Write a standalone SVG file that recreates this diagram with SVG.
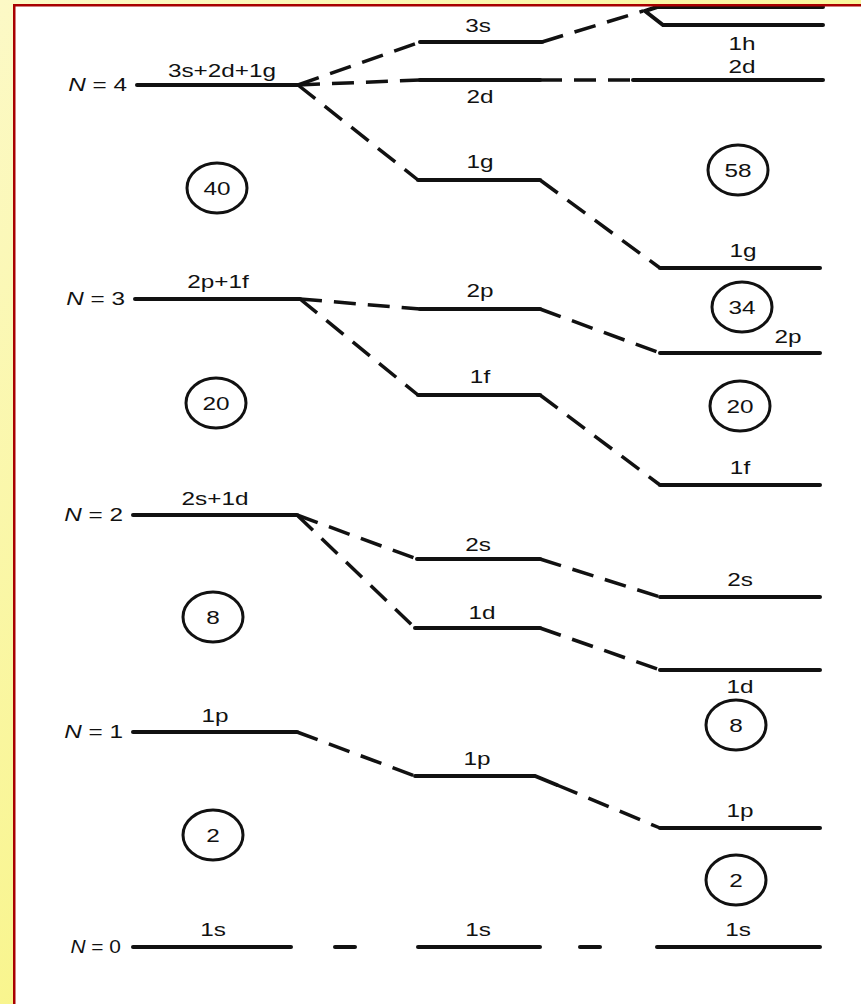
<svg xmlns="http://www.w3.org/2000/svg" width="861" height="1004" viewBox="0 0 861 1004">
<defs>
<linearGradient id="bg" gradientUnits="userSpaceOnUse" x1="0" y1="0" x2="861" y2="1004">
<stop offset="0" stop-color="#FCF9C6"/>
<stop offset="1" stop-color="#F6F266"/>
</linearGradient>
<style>
.t{font-family:"Liberation Sans",Arial,sans-serif;font-size:19px;fill:#111;text-anchor:middle}
.n{font-family:"Liberation Sans",Arial,sans-serif;font-size:19px;fill:#111;text-anchor:end}
.lv{stroke:#111;stroke-width:4;stroke-linecap:round;fill:none}
.dl{stroke:#111;stroke-width:3.5;fill:none;stroke-dasharray:22 12}
.c{fill:none;stroke:#111;stroke-width:3}
</style>
</defs>
<rect x="0" y="0" width="861" height="1004" fill="url(#bg)"/>
<rect x="15" y="6" width="846" height="998" fill="#FFFFFF"/>

<g id="connectors">
<path class="dl" d="M298,85 L420,42"/>
<path class="dl" d="M298,85 L420,80"/>
<path class="dl" d="M298,85 L418,180"/>
<path class="dl" d="M542,42 L643,11"/>
<path class="dl" d="M540,80 L633,80"/>
<path class="dl" d="M540,180 L660,268"/>
<path class="dl" d="M300,299 L420,309"/>
<path class="dl" d="M300,299 L418,395"/>
<path class="dl" d="M540,309 L660,353"/>
<path class="dl" d="M540,395 L660,485"/>
<path class="dl" d="M297,515 L417,559"/>
<path class="dl" d="M297,515 L415,628"/>
<path class="dl" d="M540,559 L660,597"/>
<path class="dl" d="M540,628 L660,670"/>
<path class="dl" d="M297,732 L415,776"/>
<path class="dl" d="M557,785 L660,828"/>
<path class="lv" d="M335,947 L355,947"/>
<path class="lv" d="M580,947 L600,947"/>
</g>

<g id="level-N4">
<line class="lv" x1="137" y1="85" x2="298" y2="85"/>
<text class="n" transform="translate(127,91) scale(1.28,1)"><tspan font-style="italic">N</tspan> = 4</text>
<text class="t" transform="translate(222,77) scale(1.28,1)">3s+2d+1g</text>
</g>
<g id="level-3s-mid">
<line class="lv" x1="420" y1="42" x2="542" y2="42"/>
<text class="t" transform="translate(478,32) scale(1.28,1)">3s</text>
</g>
<g id="level-2d-mid">
<line class="lv" x1="420" y1="80" x2="540" y2="80"/>
<text class="t" transform="translate(480,103) scale(1.28,1)">2d</text>
</g>
<g id="level-1g-mid">
<line class="lv" x1="418" y1="180" x2="540" y2="180"/>
<text class="t" transform="translate(480,168) scale(1.28,1)">1g</text>
</g>
<g id="level-top-right">
<path class="lv" d="M657,7 L645,11 L663,25 L823,25"/>
<line class="lv" x1="657" y1="7" x2="823" y2="7"/>
<text class="t" transform="translate(742,50) scale(1.28,1)">1h</text>
</g>
<g id="level-2d-right">
<line class="lv" x1="633" y1="80" x2="823" y2="80"/>
<text class="t" transform="translate(742,73) scale(1.28,1)">2d</text>
</g>
<g id="level-1g-right">
<line class="lv" x1="660" y1="268" x2="820" y2="268"/>
<text class="t" transform="translate(743,257) scale(1.28,1)">1g</text>
</g>

<g id="level-N3">
<line class="lv" x1="135" y1="299" x2="300" y2="299"/>
<text class="n" transform="translate(125,305) scale(1.28,1)"><tspan font-style="italic">N</tspan> = 3</text>
<text class="t" transform="translate(218,288) scale(1.28,1)">2p+1f</text>
</g>
<g id="level-2p-mid">
<line class="lv" x1="420" y1="309" x2="540" y2="309"/>
<text class="t" transform="translate(480,297) scale(1.28,1)">2p</text>
</g>
<g id="level-1f-mid">
<line class="lv" x1="418" y1="395" x2="540" y2="395"/>
<text class="t" transform="translate(480,383) scale(1.28,1)">1f</text>
</g>
<g id="level-2p-right">
<line class="lv" x1="660" y1="353" x2="820" y2="353"/>
<text class="t" transform="translate(788,343) scale(1.28,1)">2p</text>
</g>
<g id="level-1f-right">
<line class="lv" x1="660" y1="485" x2="820" y2="485"/>
<text class="t" transform="translate(740,474) scale(1.28,1)">1f</text>
</g>

<g id="level-N2">
<line class="lv" x1="133" y1="515" x2="297" y2="515"/>
<text class="n" transform="translate(123,521) scale(1.28,1)"><tspan font-style="italic">N</tspan> = 2</text>
<text class="t" transform="translate(215,505) scale(1.28,1)">2s+1d</text>
</g>
<g id="level-2s-mid">
<line class="lv" x1="417" y1="559" x2="540" y2="559"/>
<text class="t" transform="translate(478,551) scale(1.28,1)">2s</text>
</g>
<g id="level-1d-mid">
<line class="lv" x1="415" y1="628" x2="540" y2="628"/>
<text class="t" transform="translate(482,619) scale(1.28,1)">1d</text>
</g>
<g id="level-2s-right">
<line class="lv" x1="660" y1="597" x2="820" y2="597"/>
<text class="t" transform="translate(740,586) scale(1.28,1)">2s</text>
</g>
<g id="level-1d-right">
<line class="lv" x1="660" y1="670" x2="820" y2="670"/>
<text class="t" transform="translate(740,693) scale(1.28,1)">1d</text>
</g>

<g id="level-N1">
<line class="lv" x1="133" y1="732" x2="297" y2="732"/>
<text class="n" transform="translate(123,738) scale(1.28,1)"><tspan font-style="italic">N</tspan> = 1</text>
<text class="t" transform="translate(215,722) scale(1.28,1)">1p</text>
</g>
<g id="level-1p-mid">
<path class="lv" d="M415,776 L535,776 L557,785"/>
<text class="t" transform="translate(477,765) scale(1.28,1)">1p</text>
</g>
<g id="level-1p-right">
<line class="lv" x1="660" y1="828" x2="820" y2="828"/>
<text class="t" transform="translate(740,817) scale(1.28,1)">1p</text>
</g>

<g id="level-N0">
<line class="lv" x1="133" y1="947" x2="291" y2="947"/>
<text class="n" transform="translate(121,953) scale(1.1,1)"><tspan font-style="italic">N</tspan> = 0</text>
<text class="t" transform="translate(213,936) scale(1.28,1)">1s</text>
</g>
<g id="level-1s-mid">
<line class="lv" x1="418" y1="947" x2="540" y2="947"/>
<text class="t" transform="translate(478,936) scale(1.28,1)">1s</text>
</g>
<g id="level-1s-right">
<line class="lv" x1="657" y1="947" x2="820" y2="947"/>
<text class="t" transform="translate(738,936) scale(1.28,1)">1s</text>
</g>

<g id="magic-40"><ellipse class="c" cx="217" cy="188" rx="30" ry="25"/><text class="t" transform="translate(217,195) scale(1.28,1)">40</text></g>
<g id="magic-58"><ellipse class="c" cx="738" cy="170" rx="30" ry="25"/><text class="t" transform="translate(738,177) scale(1.28,1)">58</text></g>
<g id="magic-34"><ellipse class="c" cx="742" cy="307" rx="30" ry="25"/><text class="t" transform="translate(742,314) scale(1.28,1)">34</text></g>
<g id="magic-20-left"><ellipse class="c" cx="216" cy="403" rx="30" ry="25"/><text class="t" transform="translate(216,410) scale(1.28,1)">20</text></g>
<g id="magic-20-right"><ellipse class="c" cx="740" cy="406" rx="30" ry="25"/><text class="t" transform="translate(740,413) scale(1.28,1)">20</text></g>
<g id="magic-8-left"><ellipse class="c" cx="213" cy="617" rx="30" ry="25"/><text class="t" transform="translate(213,624) scale(1.28,1)">8</text></g>
<g id="magic-8-right"><ellipse class="c" cx="736" cy="725" rx="30" ry="25"/><text class="t" transform="translate(736,732) scale(1.28,1)">8</text></g>
<g id="magic-2-left"><ellipse class="c" cx="213" cy="835" rx="30" ry="25"/><text class="t" transform="translate(213,842) scale(1.28,1)">2</text></g>
<g id="magic-2-right"><ellipse class="c" cx="736" cy="880" rx="30" ry="25"/><text class="t" transform="translate(736,887) scale(1.28,1)">2</text></g>

<rect x="13" y="4" width="848" height="2.5" fill="#A80000"/>
<rect x="13" y="4" width="2.5" height="1000" fill="#A80000"/>
</svg>
